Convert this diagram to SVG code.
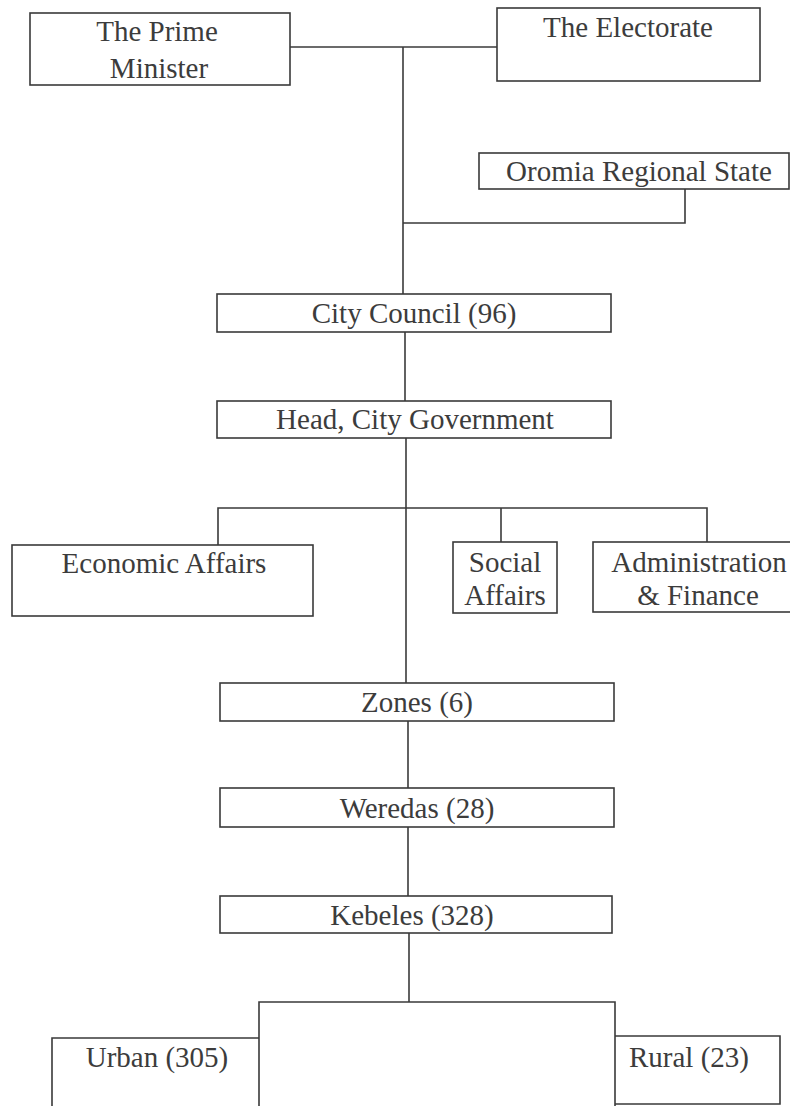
<svg xmlns="http://www.w3.org/2000/svg" width="790" height="1106" viewBox="0 0 790 1106">
<style>
.box{fill:none;stroke:#3a3a3a;stroke-width:1.6}
.ln{fill:none;stroke:#3a3a3a;stroke-width:1.6}
text{font-family:"Liberation Serif","Times New Roman",serif;font-size:29px;fill:#3c3c3c;text-anchor:middle}
</style>
<rect width="790" height="1106" fill="#ffffff"/>
<g id="connectors">
<path class="ln" d="M290 47 H497"/>
<path class="ln" d="M403 47 V294"/>
<path class="ln" d="M685 189 V223 H403"/>
<path class="ln" d="M405 332 V401"/>
<path class="ln" d="M406 438 V683"/>
<path class="ln" d="M218 545 V508 H707 V542"/>
<path class="ln" d="M501 508 V542"/>
<path class="ln" d="M408 721 V788"/>
<path class="ln" d="M408 827 V896"/>
<path class="ln" d="M409 933 V1002"/>
<path class="ln" d="M259 1106 V1002 H615 V1106"/>
</g>
<g id="prime-minister">
<rect class="box" x="30" y="13" width="260" height="72"/>
<text x="157" y="41">The Prime</text>
<text x="159" y="78">Minister</text>
</g>
<g id="electorate">
<rect class="box" x="497" y="8" width="263" height="73"/>
<text x="628" y="37">The Electorate</text>
</g>
<g id="oromia">
<rect class="box" x="479" y="153" width="310" height="36"/>
<text x="639" y="181">Oromia Regional State</text>
</g>
<g id="city-council">
<rect class="box" x="217" y="294" width="394" height="38"/>
<text x="414" y="323">City Council (96)</text>
</g>
<g id="head-city-government">
<rect class="box" x="217" y="401" width="394" height="37"/>
<text x="415" y="429">Head, City Government</text>
</g>
<g id="economic-affairs">
<rect class="box" x="12" y="545" width="301" height="71"/>
<text x="164" y="573">Economic Affairs</text>
</g>
<g id="social-affairs">
<rect class="box" x="453" y="542" width="104" height="71"/>
<text x="505" y="572">Social</text>
<text x="505" y="605">Affairs</text>
</g>
<g id="administration-finance">
<rect class="box" x="593" y="542" width="200" height="70"/>
<text x="699" y="572">Administration</text>
<text x="698" y="605">&amp; Finance</text>
</g>
<g id="zones">
<rect class="box" x="220" y="683" width="394" height="38"/>
<text x="417" y="712">Zones (6)</text>
</g>
<g id="weredas">
<rect class="box" x="220" y="788" width="394" height="39"/>
<text x="417" y="818">Weredas (28)</text>
</g>
<g id="kebeles">
<rect class="box" x="220" y="896" width="392" height="37"/>
<text x="412" y="925">Kebeles (328)</text>
</g>
<g id="urban">
<path class="box" d="M52 1106 V1038 H259"/>
<text x="157" y="1067">Urban (305)</text>
</g>
<g id="rural">
<path class="box" d="M615 1036 H780 V1104 H615"/>
<text x="689" y="1067">Rural (23)</text>
</g>
</svg>
